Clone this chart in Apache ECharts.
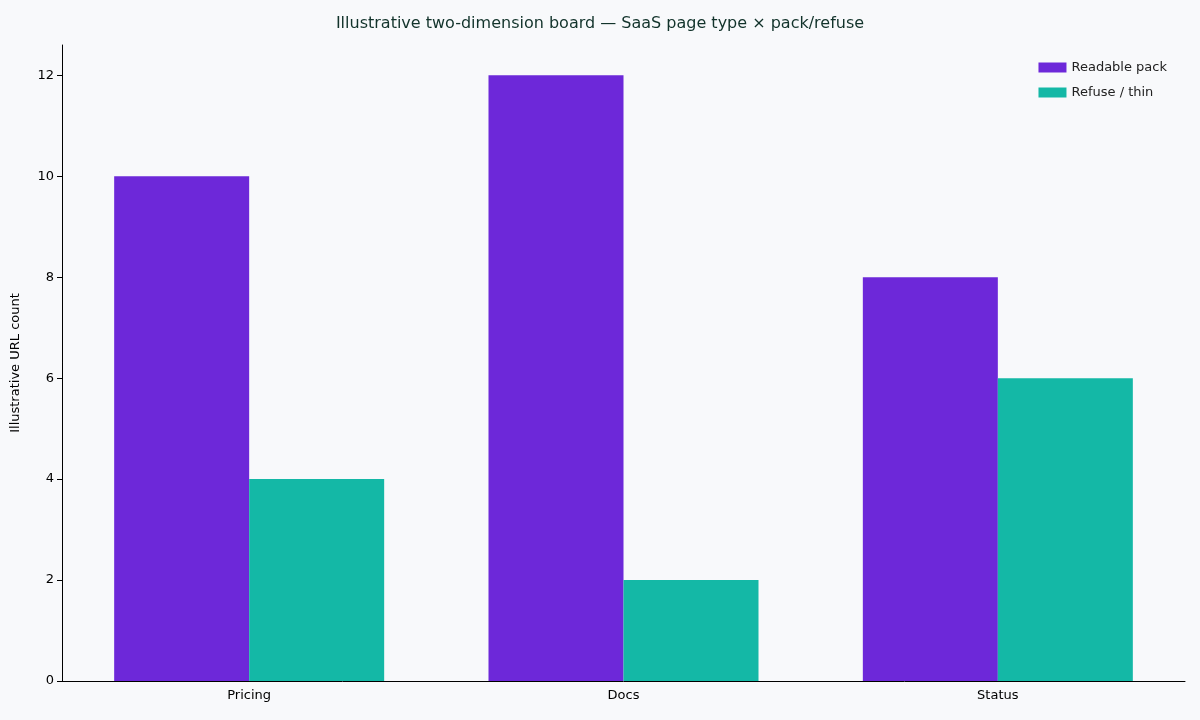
<!DOCTYPE html>
<html><head><meta charset="utf-8">
<script src="https://cdn.jsdelivr.net/npm/echarts@6/dist/echarts.min.js"></script>
<style>html,body{margin:0;background:#f8f9fb}#c{width:1200px;height:720px}</style>
</head><body><div id="c"></div>
<script>
const categories = ["Pricing", "Docs", "Status"];
const readablePack = [10, 12, 8];
const refuseThin = [4, 2, 6];
const chart = echarts.init(document.getElementById('c'));
chart.setOption({
  backgroundColor: '#f8f9fb',
  textStyle: {fontFamily: 'DejaVu Sans'},
  title: {text: 'Illustrative two-dimension board — SaaS page type × pack/refuse', left: 'center', top: 11,
    textStyle: {fontSize: 16, fontWeight: 'normal', color: '#12332b', fontFamily: 'DejaVu Sans'}},
  legend: {orient: 'vertical', right: 28, top: 56, itemWidth: 28, itemHeight: 10, itemGap: 12, icon: 'rect',
    textStyle: {fontSize: 13, color: '#222'}},
  grid: {left: 62, right: 15, top: 45, bottom: 39},
  xAxis: {type: 'category', data: categories,
    axisLine: {lineStyle: {color: '#000'}}, axisTick: {alignWithLabel: true, lineStyle: {color: '#000'}},
    axisLabel: {color: '#000', fontSize: 13, margin: 8}},
  yAxis: {type: 'value', min: 0, max: 12.6, interval: 2,
    name: 'Illustrative URL count', nameLocation: 'middle', nameGap: 40,
    nameTextStyle: {fontSize: 13, color: '#000'},
    axisLine: {show: true, lineStyle: {color: '#000'}}, axisTick: {show: true, lineStyle: {color: '#000'}},
    splitLine: {show: false},
    axisLabel: {color: '#000', fontSize: 13, showMaxLabel: false,
      formatter: v => Number.isInteger(v) ? String(v) : ''}},
  series: [
    {name: 'Readable pack', type: 'bar', data: readablePack, barWidth: 135, barGap: '0%', itemStyle: {color: '#6d28d9'}},
    {name: 'Refuse / thin', type: 'bar', data: refuseThin, barWidth: 135, itemStyle: {color: '#14b8a6'}}
  ]
});
</script></body></html>
